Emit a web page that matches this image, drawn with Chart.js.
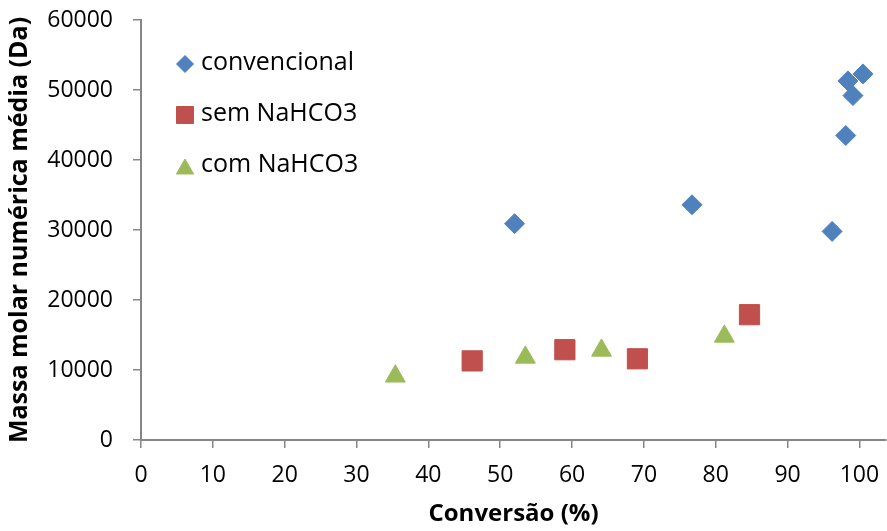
<!DOCTYPE html>
<html>
<head>
<meta charset="utf-8">
<script src="https://cdn.jsdelivr.net/npm/chart.js@4/dist/chart.umd.min.js"></script>
<style>
  html, body { margin: 0; padding: 0; background: #fff; overflow: hidden; }
  #wrap { width: 887px; height: 531px; position: relative; }
  #chart { display: block; }
</style>
</head>
<body>
<div id="wrap"><canvas id="chart" width="887" height="531"></canvas></div>
<script>
// values
const convX = [52.0, 76.7, 96.2, 98.1, 98.4, 99.1, 100.5];
const convY = [30900, 33600, 29800, 43500, 51300, 49200, 52300];
const semX = [46.1, 59.0, 69.1, 84.7];
const semY = [11300, 12900, 11600, 17900];
const comX = [35.4, 53.5, 64.1, 81.2];
const comY = [9100, 11800, 12800, 14800];
const xTickValues = [0, 10, 20, 30, 40, 50, 60, 70, 80, 90, 100];
const seriesNames = ['convencional', 'sem NaHCO3', 'com NaHCO3'];
const xTitle = 'Conversão (%)';
const yTitle = 'Massa molar numérica média (Da)';

const FONT = "'Open Sans', sans-serif";
const AXIS = '#868686';

function toPoints(xs, ys) {
    return xs.map((x, i) => ({ x: x, y: ys[i] }));
}

// legend drawn inside the plot, top-left, with the dataset markers
const innerLegend = {
    id: 'innerLegend',
    afterDraw(chart) {
        const ctx = chart.ctx;
        const area = chart.chartArea;
        const sizes = [8.5, 12, 10];
        chart.data.datasets.forEach((ds, i) => {
            const cy = area.top + 44 + i * 51;
            const cx = area.left + 44;
            ctx.save();
            ctx.fillStyle = ds.backgroundColor;
            ctx.strokeStyle = ds.backgroundColor;
            ctx.lineWidth = 1;
            Chart.helpers.drawPoint(ctx, { pointStyle: ds.pointStyle, radius: sizes[i], rotation: 0, borderWidth: 1 }, cx, cy + (ds.pointStyle === 'triangle' ? 3 : 0));
            ctx.fillStyle = '#000';
            ctx.font = '25px ' + FONT;
            ctx.textBaseline = 'middle';
            ctx.textAlign = 'left';
            ctx.fillText(ds.label, area.left + 60, cy - 1);
            ctx.restore();
        });
    }
};

new Chart(document.getElementById('chart').getContext('2d'), {
    type: 'scatter',
    data: {
        datasets: [
            {
                label: seriesNames[0],
                data: toPoints(convX, convY),
                pointStyle: 'rectRot',
                pointRadius: 10,
                backgroundColor: '#4F81BD',
                borderColor: '#4F81BD',
                borderWidth: 1
            },
            {
                label: seriesNames[1],
                data: toPoints(semX, semY),
                pointStyle: 'rect',
                pointRadius: 14.3,
                backgroundColor: '#C0504D',
                borderColor: '#C0504D',
                borderWidth: 1
            },
            {
                label: seriesNames[2],
                data: toPoints(comX, comY),
                pointStyle: 'triangle',
                pointRadius: 11.5,
                backgroundColor: '#9BBB59',
                borderColor: '#9BBB59',
                borderWidth: 1
            }
        ]
    },
    options: {
        responsive: false,
        animation: false,
        layout: { autoPadding: false, padding: { top: 20, right: 1, left: 0, bottom: 0 } },
        plugins: {
            legend: { display: false },
            tooltip: { enabled: false }
        },
        scales: {
            x: {
                type: 'linear',
                min: 0,
                max: 103.7,
                afterBuildTicks: (scale) => {
                    scale.ticks = xTickValues.map(v => ({ value: v }));
                },
                afterFit: (scale) => {
                    scale.height = 91;
                    scale.paddingLeft = 0;
                    scale.paddingRight = 0;
                },
                ticks: {
                    color: '#000', font: { family: FONT, size: 23 }, padding: 14, maxRotation: 0, autoSkip: false,
                    callback: (v) => String(Math.round(v))
                },
                grid: { display: true, drawOnChartArea: false, drawTicks: true, tickLength: 8, color: AXIS, lineWidth: 1.5 },
                border: { display: true, color: AXIS, width: 2 },
                title: { display: true, text: xTitle, color: '#000', font: { family: FONT, size: 24, weight: 'bold' }, padding: { top: 0, bottom: 2 } }
            },
            y: {
                type: 'linear',
                min: 0,
                max: 60000,
                afterFit: (scale) => {
                    scale.width = 141;
                    scale.paddingTop = 0;
                    scale.paddingBottom = 0;
                },
                ticks: { stepSize: 10000, color: '#000', font: { family: FONT, size: 23 }, padding: 20, callback: (v) => String(v) },
                grid: { display: true, drawOnChartArea: false, drawTicks: true, tickLength: 8, color: AXIS, lineWidth: 1.5 },
                border: { display: true, color: AXIS, width: 2 },
                title: { display: true, text: yTitle, color: '#000', font: { family: FONT, size: 25, weight: 'bold' }, padding: { top: 5, bottom: 0 } }
            }
        }
    },
    plugins: [innerLegend]
});
</script>
</body>
</html>
